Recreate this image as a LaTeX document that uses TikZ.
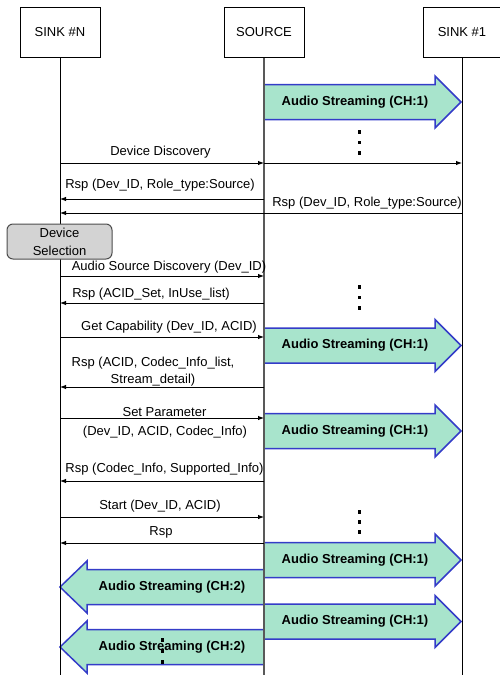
\documentclass[tikz,border=0pt]{standalone}
\usepackage{fontspec}
\setmainfont{Liberation Sans}
\usetikzlibrary{arrows.meta}
\definecolor{streamfill}{RGB}{168,228,204}
\definecolor{streamline}{RGB}{52,60,200}
\definecolor{selfill}{RGB}{211,211,211}

\begin{document}
\begin{tikzpicture}[x=1pt,y=-1pt,
  every node/.style={font=\fontsize{13}{16}\selectfont, inner sep=0pt},
  headbox/.style={draw, line width=1pt, minimum height=50pt},
  lifeline/.style={line width=1pt},
  srcline/.style={line width=1.8pt, draw=black!65},
  msg/.style={line width=0.9pt, -{Latex[length=6pt,width=4.5pt]}},
  lbl/.style={align=center},
  streamlbl/.style={font=\bfseries\fontsize{13}{16}\selectfont},
  stream/.style={fill=streamfill, draw=streamline, line width=1.5pt, line join=miter},
  selbox/.style={draw=black!70, fill=selfill, rounded corners=6pt, line width=1pt,
    minimum width=105pt, minimum height=35pt, align=center, font=\fontsize{13}{18}\selectfont},
  pics/rstream/.style={code={
    \draw[stream] (0,-17.5) -- (171,-17.5) -- (171,-26) -- (197,0) -- (171,26)
      -- (171,17.5) -- (0,17.5) -- cycle;}},
  pics/lstream/.style={code={
    \draw[stream] (0,0) -- (27,-26) -- (27,-17.5) -- (204,-17.5) -- (204,17.5)
      -- (27,17.5) -- (27,26) -- cycle;}}
]
\useasboundingbox (0,0) rectangle (500,675);

% participants
\node[headbox, minimum width=80pt] (sinkN) at (60,32) {SINK \#N};
\node[headbox, minimum width=80pt] (src) at (264,32) {SOURCE};
\node[headbox, minimum width=78pt] (sink1) at (462,32) {SINK \#1};

\coordinate (endN) at (60,676);
\coordinate (endS) at (264,676);
\coordinate (end1) at (462,676);

% streaming channels
\pic at (src |- 0,102) {rstream};
\pic at (src |- 0,345.5) {rstream};
\pic at (src |- 0,431) {rstream};
\pic at (src |- 0,560) {rstream};
\pic at (sinkN |- 0,587) {lstream};
\pic at (src |- 0,621.5) {rstream};
\pic at (sinkN |- 0,647) {lstream};

\node[streamlbl] (s1) at (355,102) {Audio Streaming (CH:1)};
\node[streamlbl] (s2) at (355,345.5) {Audio Streaming (CH:1)};
\node[streamlbl] (s3) at (355,431) {Audio Streaming (CH:1)};
\node[streamlbl] (s4) at (355,560) {Audio Streaming (CH:1)};
\node[streamlbl] (s5) at (172,587) {Audio Streaming (CH:2)};
\node[streamlbl] (s6) at (355,621.5) {Audio Streaming (CH:1)};
\node[streamlbl] (s7) at (172,647) {Audio Streaming (CH:2)};

% lifelines
\draw[lifeline] (sinkN) -- (endN);
\draw[lifeline] (sink1) -- (end1);
\draw[srcline] (src) -- (endS);
\node[headbox, minimum width=80pt, fill=white] at (sinkN) {SINK \#N};
\node[headbox, minimum width=80pt, fill=white] at (src) {SOURCE};
\node[headbox, minimum width=78pt, fill=white] at (sink1) {SINK \#1};

% continuation dots
\foreach \y in {132,142.5,153,287,297.5,308,512,522,532}
  \fill (357.5,\y-1.7) rectangle ++(3.2,3.4);
\foreach \y in {640,651,662}
  \fill (160.5,\y-1.7) rectangle ++(3.2,3.4);

% messages
\draw[msg] (sinkN |- 0,163) -- (src |- 0,163);
\draw[msg] (src |- 0,163) -- (sink1 |- 0,163);
\node[lbl] (m1) at (160.5,152) {Device Discovery};

\draw[msg] (src |- 0,199) -- (sinkN |- 0,199);
\node[lbl] (m2) at (160,185) {Rsp (Dev\_ID, Role\_type:Source)};

\draw[msg] (sink1 |- 0,213) -- (sinkN |- 0,213);
\node[lbl] (m3) at (367,203) {Rsp (Dev\_ID, Role\_type:Source)};

\node[selbox] (sel) at (59.5,241.5) {Device\\Selection};

\draw[msg] (sinkN |- 0,276) -- (src |- 0,276);
\node[lbl] (m4) at (169,267) {Audio Source Discovery (Dev\_ID)};

\draw[msg] (src |- 0,303) -- (sinkN |- 0,303);
\node[lbl] (m5) at (151,294) {Rsp (ACID\_Set, InUse\_list)};

\draw[msg] (sinkN |- 0,337) -- (src |- 0,337);
\node[lbl] (m6) at (169,327) {Get Capability (Dev\_ID, ACID)};

\draw[msg] (src |- 0,387) -- (sinkN |- 0,387);
\node[lbl, font=\fontsize{13}{17}\selectfont] (m7) at (153,371.5) {Rsp (ACID, Codec\_Info\_list,\\Stream\_detail)};

\draw[msg] (sinkN |- 0,418) -- (src |- 0,418);
\node[lbl] (m8a) at (164.5,412) {Set Parameter};
\node[lbl] (m8b) at (165,432) {(Dev\_ID, ACID, Codec\_Info)};

\draw[msg] (src |- 0,481) -- (sinkN |- 0,481);
\node[lbl] (m9) at (164.5,469) {Rsp (Codec\_Info, Supported\_Info)};

\draw[msg] (sinkN |- 0,517) -- (src |- 0,517);
\node[lbl] (m10) at (160,506) {Start (Dev\_ID, ACID)};

\draw[msg] (src |- 0,543) -- (sinkN |- 0,543);
\node[lbl] (m11) at (161,532) {Rsp};
\end{tikzpicture}
\end{document}
